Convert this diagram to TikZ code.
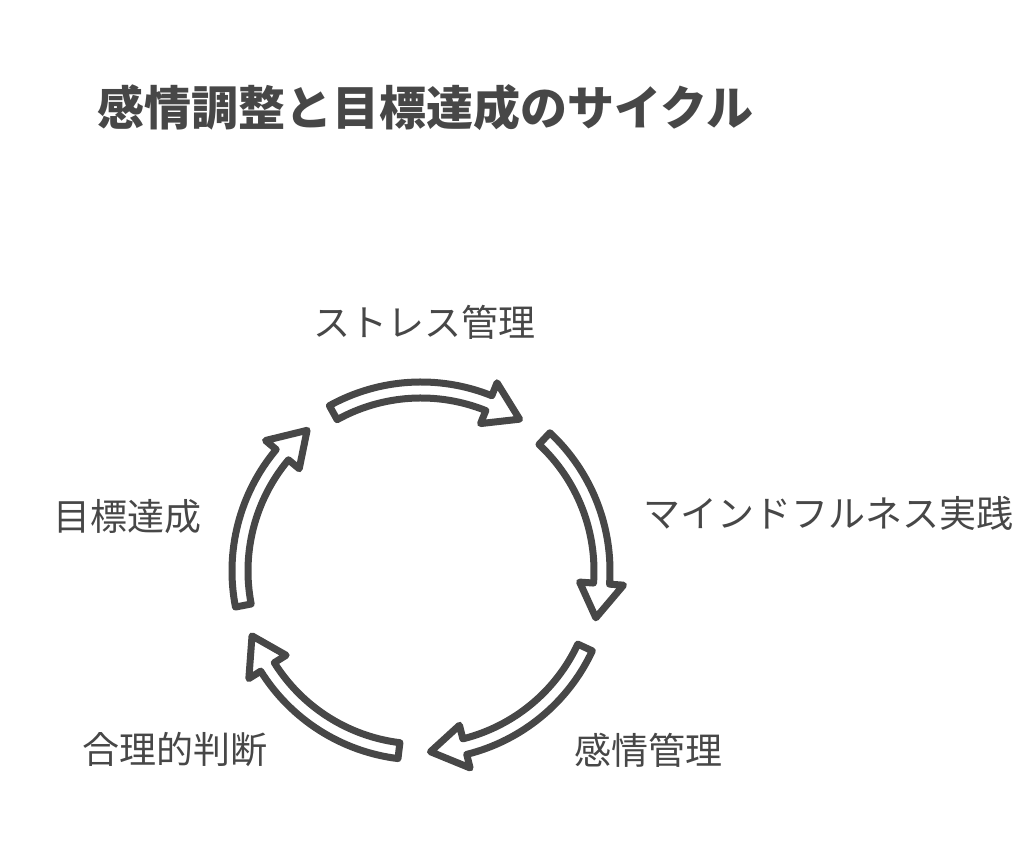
\documentclass[tikz,border=0pt]{standalone}
\usepackage{fontspec}
\setmainfont{Noto Sans CJK JP}
\usetikzlibrary{positioning}
\definecolor{ink}{HTML}{474747}

\begin{document}
\begin{tikzpicture}[x=0.5pt,y=0.5pt,
	cyc/.style={draw=ink, line width=3.5pt, line join=round, fill=white},
	lab/.style={text=ink, inner sep=0pt, font=\fontsize{18.5}{20}\selectfont}]
		\useasboundingbox (0,0) rectangle (1024,866);
		\node[anchor=west, text=ink, inner sep=0pt, font=\bfseries\fontsize{23.5}{26}\selectfont] (title) at (97,758) {感情調整と目標達成のサイクル};
		
		\coordinate (c) at (421,295);
		\foreach \a in {119,47,-25,-97,-169}
			\draw[cyc, shift={(c)}] (\a:189) arc[start angle=\a, end angle=\a-51, radius=189] -- (\a-51:203) -- (\a-62:181) -- (\a-51:159) -- (\a-51:173) arc[start angle=\a-51, end angle=\a, radius=173] -- cycle;
		
		\node[lab] (stress) at (424,544) {ストレス管理};
		\node[lab] (mind) at (828,353) {マインドフルネス実践};
		\node[lab] (emo) at (648,116) {感情管理};
		\node[lab] (judge) at (175,116) {合理的判断};
		\node[lab] (goal) at (128,349) {目標達成};
	\end{tikzpicture}
\end{document}
